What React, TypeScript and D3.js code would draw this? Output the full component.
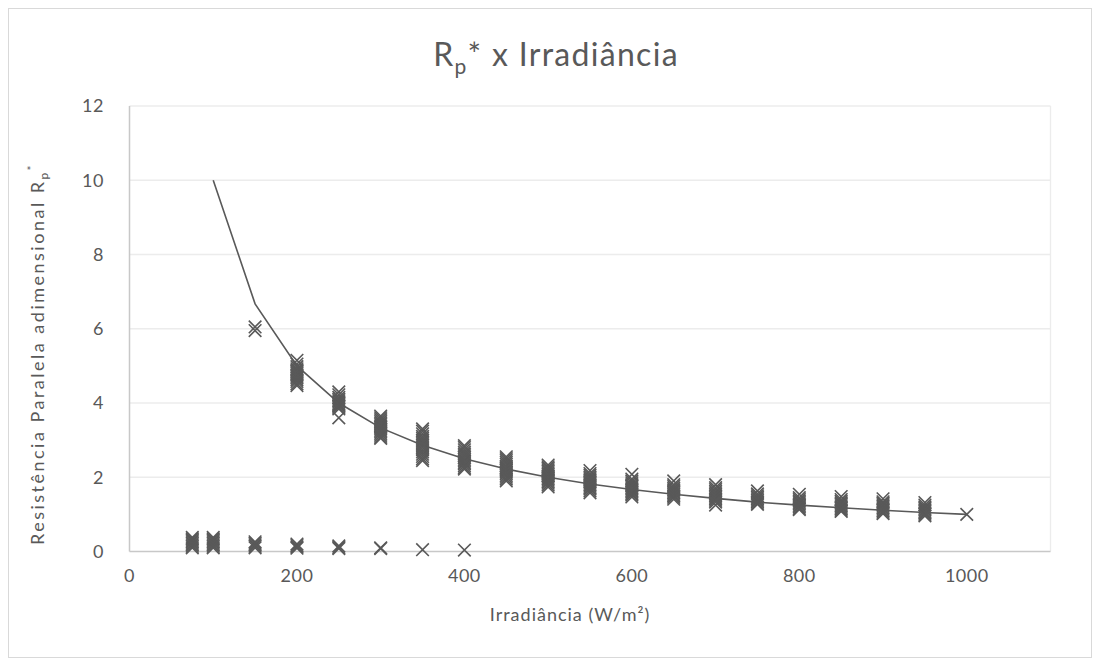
import React from "react";
import * as d3 from "d3";

const W = 1101;
const H = 666;

const xTicks = [0, 200, 400, 600, 800, 1000];
const yTicks = [0, 2, 4, 6, 8, 10, 12];

// measured Rp* values, upper branch (grouped by irradiance)
const upperX = [150, 200, 250, 300, 350, 400, 450, 500, 550, 600, 650, 700, 750, 800, 850, 900, 950, 1000];
const upperY: number[][] = [
  [6.05, 5.95],
  [5.15, 5.05, 4.98, 4.92, 4.88, 4.85, 4.8, 4.76, 4.72, 4.68, 4.63, 4.58, 4.52, 4.47],
  [4.3, 4.22, 4.15, 4.1, 4.06, 4.02, 3.98, 3.95, 3.92, 3.88, 3.84, 3.6],
  [3.65, 3.6, 3.55, 3.5, 3.46, 3.42, 3.38, 3.34, 3.3, 3.26, 3.22, 3.18, 3.13, 3.08, 3.05],
  [3.3, 3.24, 3.17, 3.1, 3.05, 3.0, 2.95, 2.9, 2.85, 2.8, 2.74, 2.68, 2.62, 2.56, 2.5, 2.45],
  [2.85, 2.8, 2.74, 2.68, 2.63, 2.58, 2.53, 2.48, 2.44, 2.4, 2.36, 2.31, 2.26, 2.22],
  [2.55, 2.5, 2.45, 2.4, 2.35, 2.3, 2.26, 2.22, 2.18, 2.14, 2.1, 2.05, 2.0, 1.95, 1.9],
  [2.33, 2.28, 2.24, 2.2, 2.16, 2.12, 2.08, 2.04, 2.0, 1.96, 1.92, 1.88, 1.84, 1.79, 1.74],
  [2.18, 2.1, 2.05, 2.0, 1.96, 1.92, 1.88, 1.84, 1.8, 1.76, 1.72, 1.68, 1.63, 1.58],
  [2.08, 1.95, 1.9, 1.85, 1.8, 1.76, 1.72, 1.68, 1.64, 1.6, 1.56, 1.52, 1.47],
  [1.9, 1.8, 1.75, 1.7, 1.66, 1.62, 1.58, 1.54, 1.5, 1.46, 1.41],
  [1.8, 1.72, 1.67, 1.62, 1.58, 1.54, 1.5, 1.46, 1.42, 1.38, 1.33, 1.25],
  [1.63, 1.55, 1.5, 1.46, 1.42, 1.38, 1.34, 1.3, 1.27],
  [1.54, 1.45, 1.4, 1.36, 1.32, 1.28, 1.24, 1.2, 1.16, 1.13],
  [1.48, 1.4, 1.35, 1.31, 1.27, 1.23, 1.19, 1.15, 1.11, 1.08],
  [1.42, 1.34, 1.3, 1.26, 1.22, 1.18, 1.14, 1.1, 1.06, 1.02],
  [1.32, 1.25, 1.2, 1.16, 1.12, 1.08, 1.04, 1.0, 0.96],
  [1.0],
];

// lower branch near zero
const lowerX = [75, 100, 150, 200, 250, 300, 350, 400];
const lowerY: number[][] = [
  [0.38, 0.34, 0.3, 0.26, 0.22, 0.18, 0.14, 0.1],
  [0.38, 0.34, 0.3, 0.26, 0.22, 0.18, 0.14, 0.1],
  [0.26, 0.22, 0.18, 0.14, 0.1],
  [0.2, 0.16, 0.12, 0.09],
  [0.15, 0.11, 0.08],
  [0.1, 0.08],
  [0.05],
  [0.04],
];

// fitted curve
const fitX = [100, 150, 200, 250, 300, 350, 400, 450, 500, 550, 600, 650, 700, 750, 800, 850, 900, 950, 1000];
const fitY = [10, 6.67, 5, 4, 3.33, 2.86, 2.5, 2.22, 2, 1.82, 1.67, 1.54, 1.43, 1.33, 1.25, 1.18, 1.11, 1.05, 1];

const INK = "#595959";
const FONT = "Lato, 'Open Sans', sans-serif";

export default function App() {
  const x = d3.scaleLinear().domain([0, 1100]).range([129.5, 1050.5]);
  const y = d3.scaleLinear().domain([0, 12]).range([551.5, 106]);

  const pts: { gx: number; v: number }[] = [];
  upperX.forEach((gx, i) => upperY[i].forEach((v) => pts.push({ gx, v })));
  lowerX.forEach((gx, i) => lowerY[i].forEach((v) => pts.push({ gx, v })));

  const line = d3
    .line<number>()
    .x((_, i) => x(fitX[i]))
    .y((d) => y(d));

  const s = 6.3;

  return (
    <svg
      width={W}
      height={H}
      style={{ position: "absolute", left: 0, top: 0, background: "#fff" }}
      fontFamily={FONT}
    >
      <rect x={8.5} y={8.5} width={1083} height={649} fill="#fff" stroke="#d9d9d9" strokeWidth={1} />

      {/* gridlines */}
      {yTicks.filter((t) => t > 0).map((t) => (
        <line key={t} x1={x(0)} x2={x(1100)} y1={y(t)} y2={y(t)} stroke="#ececec" strokeWidth={1.3} />
      ))}
      <line x1={x(1100)} x2={x(1100)} y1={y(12)} y2={y(0)} stroke="#ececec" strokeWidth={1.3} />
      {/* axes */}
      <line x1={x(0)} x2={x(1100)} y1={y(0)} y2={y(0)} stroke="#c8c8c8" strokeWidth={1.5} />
      <line x1={x(0)} x2={x(0)} y1={y(12)} y2={y(0)} stroke="#c8c8c8" strokeWidth={1.5} />

      {/* tick labels */}
      {yTicks.map((t) => (
        <text key={t} x={104} y={y(t)} dy="0.36em" textAnchor="end" fontSize={18} fill={INK} letterSpacing={0.5}>
          {t}
        </text>
      ))}
      {xTicks.map((t) => (
        <text key={t} x={x(t)} y={582} textAnchor="middle" fontSize={18} fill={INK} letterSpacing={0.5}>
          {t}
        </text>
      ))}

      {/* fit line */}
      <path d={line(fitY) || ""} fill="none" stroke={INK} strokeWidth={1.6} />

      {/* markers */}
      {pts.map((p, i) => {
        const cx = x(p.gx);
        const cy = y(p.v);
        return (
          <path
            key={i}
            d={`M${cx - s},${cy - s}L${cx + s},${cy + s}M${cx - s},${cy + s}L${cx + s},${cy - s}`}
            stroke={INK}
            strokeWidth={1.6}
            fill="none"
          />
        );
      })}

      {/* title */}
      <text x={556} y={66} textAnchor="middle" fontSize={32} fill={INK} letterSpacing={1.3}>
        R<tspan fontSize={21} dy={8}>p</tspan>
        <tspan dy={-8}>* x Irradiância</tspan>
      </text>

      {/* axis titles */}
      <text x={570} y={621} textAnchor="middle" fontSize={18} fill={INK} letterSpacing={1}>
        Irradiância (W/m²)
      </text>
      <text
        transform={`translate(44,354) rotate(-90)`}
        textAnchor="middle"
        fontSize={18}
        fill={INK}
        letterSpacing={2.5}
      >
        Resistência Paralela adimensional R<tspan fontSize={12} dy={4}>p</tspan>
        <tspan fontSize={12} dy={-12}>*</tspan>
      </text>
    </svg>
  );
}
